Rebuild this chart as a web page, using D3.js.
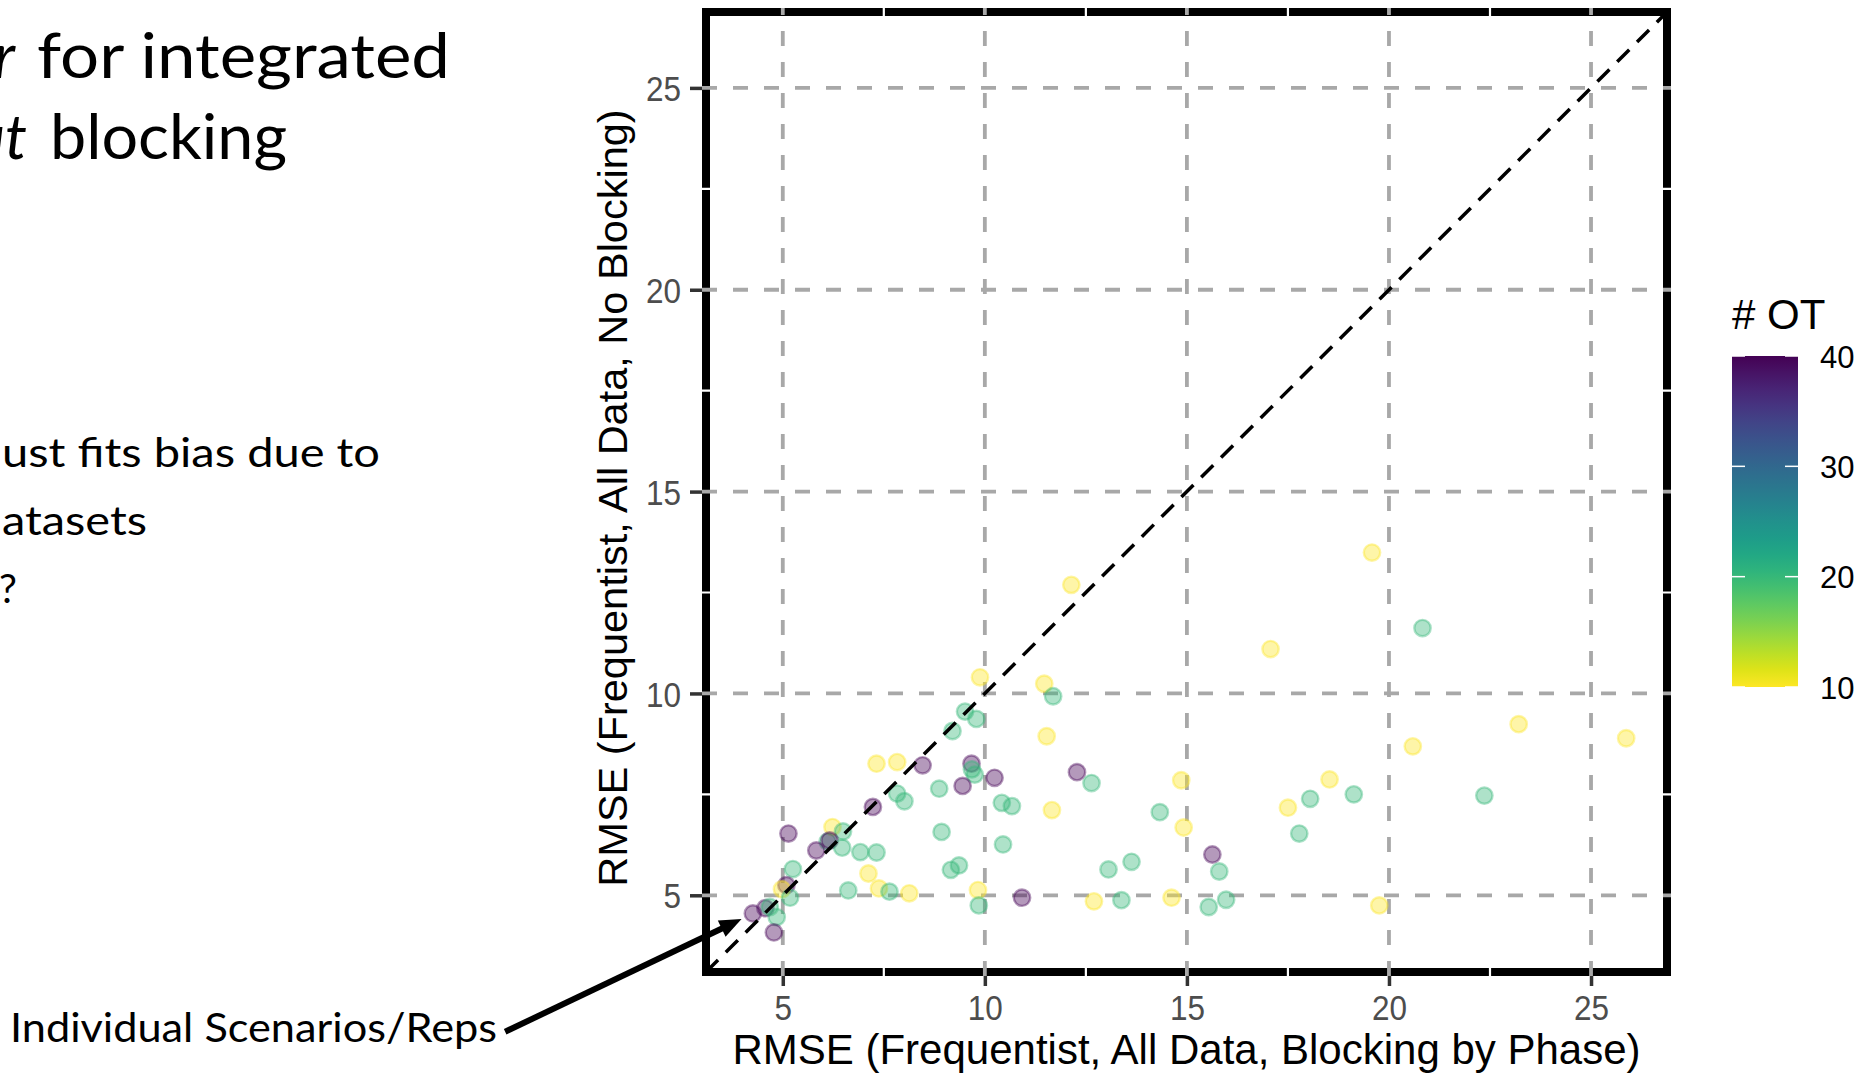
<!DOCTYPE html>
<html><head><meta charset="utf-8">
<script src="https://cdn.jsdelivr.net/npm/d3@7"></script>
<style>html,body{margin:0;padding:0;background:#fff;overflow:hidden} svg{display:block}</style>
</head><body><svg id="chart" width="1860" height="1074"></svg>
<script>
// ---- data ----
const rmseBlocking = [9.88,11.47,11.69,9.51,9.79,9.20,11.53,7.32,7.83,8.46,9.67,9.68,9.75,10.24,12.28,12.64,14.86,18.53,8.87,9.45,7.83,8.01,7.23,10.42,10.67,11.66,14.33,17.50,18.05,19.13,14.92,17.78,6.23,6.49,5.14,8.93,10.45,6.11,6.16,5.83,6.47,6.92,7.32,15.63,13.63,13.06,15.80,9.36,9.16,7.12,5.25,5.09,4.98,5.18,6.62,7.38,7.64,8.13,9.83,9.85,10.92,12.70,13.38,14.62,15.54,15.97,19.76,4.26,4.57,4.68,4.85,4.78,19.58,12.14,20.83,17.07,23.21,25.87,20.59,22.36];
const rmseNoBlocking = [10.40,10.24,9.93,9.55,9.37,9.07,8.94,8.26,8.30,8.22,8.26,8.12,7.99,7.91,8.05,7.78,7.85,7.87,7.64,7.71,7.52,7.33,7.19,7.29,7.21,7.11,7.06,7.17,7.39,7.50,6.68,6.53,6.69,6.58,6.53,6.57,6.26,6.33,6.36,6.11,6.18,6.07,6.06,6.01,5.83,5.64,5.59,5.74,5.63,5.54,5.65,5.25,5.15,4.94,5.12,5.17,5.09,5.05,5.13,4.75,4.94,4.85,4.88,4.94,4.71,4.89,4.75,4.55,4.68,4.71,4.46,4.08,13.49,12.69,11.62,11.10,9.24,8.89,8.69,7.47];
const numOT = [10,10,20,20,20,20,10,10,10,40,40,20,20,40,40,20,10,10,20,40,20,20,40,20,20,10,20,10,20,20,10,20,10,20,40,20,20,20,40,40,20,20,20,40,20,20,20,20,20,10,20,40,10,20,20,10,20,10,10,20,40,10,20,10,20,20,10,40,40,20,20,40,10,10,20,10,10,10,10,20];
const axisTicks = [5, 10, 15, 20, 25];
const minorTicks = [7.5, 12.5, 17.5, 22.5];
const legendTicks = [10, 20, 30, 40];
const axisDomain = [3.1, 26.88];
const otDomain = [40, 10];
const xTitle = "RMSE (Frequentist, All Data, Blocking by Phase)";
const yTitle = "RMSE (Frequentist, All Data, No Blocking)";
const legendTitle = "# OT";
const annotationText = "Individual Scenarios/Reps";
const arrowFrom = [-1.87, 1.62];
const arrowTo = [3.98, 4.41];

// ---- setup ----
const svg = d3.select("#chart");
svg.append("rect").attr("width", 1860).attr("height", 1074).attr("fill", "#fff");
const P = {l: 706, r: 1667, t: 12, b: 972};
const x = d3.scaleLinear().domain(axisDomain).range([P.l, P.r]);
const y = d3.scaleLinear().domain(axisDomain).range([P.b, P.t]);
const color = d3.scaleSequential(d3.interpolateViridis).domain(otDomain);
const font = "'Liberation Sans', Arial, Helvetica, sans-serif";
const slideFont = "Lato, 'Open Sans', sans-serif";
const tickScale = 0.9;

// ---- slide text (partially cropped) ----
const slide = svg.append("g").attr("font-family", slideFont).attr("fill", "#000");
slide.append("text").attr("x", 15).attr("y", 78).attr("text-anchor", "end")
  .attr("font-size", 62).attr("font-style", "italic").text("r");
slide.append("text").attr("x", 37).attr("y", 78).attr("font-size", 62)
  .attr("textLength", 413).attr("lengthAdjust", "spacingAndGlyphs").text("for integrated");
slide.append("text").attr("x", 27).attr("y", 159).attr("text-anchor", "end")
  .attr("font-size", 62).attr("font-style", "italic").text("ut");
slide.append("text").attr("x", 50).attr("y", 159).attr("font-size", 62)
  .attr("textLength", 237).attr("lengthAdjust", "spacingAndGlyphs").text("blocking");
slide.append("text").attr("x", 2).attr("y", 467).attr("font-size", 40)
  .attr("textLength", 378).attr("lengthAdjust", "spacingAndGlyphs").text("ust fits bias due to");
slide.append("text").attr("x", 2).attr("y", 535).attr("font-size", 40)
  .attr("textLength", 145).attr("lengthAdjust", "spacingAndGlyphs").text("atasets");
slide.append("text").attr("x", 17).attr("y", 603).attr("text-anchor", "end").attr("font-size", 40).text("?");
slide.append("text").attr("x", 10).attr("y", 1042).attr("font-size", 40)
  .attr("textLength", 487).attr("lengthAdjust", "spacingAndGlyphs").text(annotationText);

// ---- axes (ticks + labels) ----
const xAxis = svg.append("g").attr("transform", `translate(0,${P.b})`)
  .call(d3.axisBottom(x).tickValues(axisTicks).tickSize(14).tickFormat(d3.format("d")));
xAxis.select(".domain").remove();
xAxis.selectAll(".tick line").attr("stroke", "#333").attr("stroke-width", 3.5);
xAxis.selectAll(".tick text").attr("y", 48).attr("dy", null)
  .attr("font-size", 35).attr("font-family", font).attr("fill", "#4d4d4d")
  .attr("transform", `scale(${tickScale},1)`);

const yAxis = svg.append("g").attr("transform", `translate(${P.l},0)`)
  .call(d3.axisLeft(y).tickValues(axisTicks).tickSize(16).tickFormat(d3.format("d")));
yAxis.select(".domain").remove();
yAxis.selectAll(".tick line").attr("stroke", "#333").attr("stroke-width", 3.5);
yAxis.selectAll(".tick text").attr("x", -25 / tickScale).attr("dy", "0.36em")
  .attr("font-size", 35).attr("font-family", font).attr("fill", "#4d4d4d")
  .attr("transform", `scale(${tickScale},1)`);

// ---- panel border ----
svg.append("rect").attr("x", P.l).attr("y", P.t).attr("width", P.r - P.l).attr("height", P.b - P.t)
  .attr("fill", "none").attr("stroke", "#000").attr("stroke-width", 8);

// ---- grid ----
const bw = 4;
const grid = svg.append("g");
grid.selectAll("line.vmin").data(minorTicks).join("line").attr("class", "vmin")
  .attr("x1", d => x(d)).attr("x2", d => x(d)).attr("y1", P.b + bw).attr("y2", P.t - bw)
  .attr("stroke", "#fff").attr("stroke-width", 2.2);
grid.selectAll("line.hmin").data(minorTicks).join("line").attr("class", "hmin")
  .attr("y1", d => y(d)).attr("y2", d => y(d)).attr("x1", P.l - bw).attr("x2", P.r + bw)
  .attr("stroke", "#fff").attr("stroke-width", 2.2);
grid.selectAll("line.vmaj").data(axisTicks).join("line").attr("class", "vmaj")
  .attr("x1", d => x(d)).attr("x2", d => x(d)).attr("y1", P.b + bw).attr("y2", P.t - bw)
  .attr("stroke", "#a8a8a8").attr("stroke-width", 3.8).attr("stroke-dasharray", "15,16");
grid.selectAll("line.hmaj").data(axisTicks).join("line").attr("class", "hmaj")
  .attr("y1", d => y(d)).attr("y2", d => y(d)).attr("x1", P.l - bw).attr("x2", P.r + bw)
  .attr("stroke", "#a8a8a8").attr("stroke-width", 3.8).attr("stroke-dasharray", "15,16");

// ---- points ----
const pts = rmseBlocking.map((v, i) => ({x: v, y: rmseNoBlocking[i], ot: numOT[i]}));
svg.append("g").selectAll("circle").data(pts).join("circle")
  .attr("cx", d => x(d.x)).attr("cy", d => y(d.y)).attr("r", 8.2)
  .attr("fill", d => color(d.ot)).attr("fill-opacity", 0.4)
  .attr("stroke", d => color(d.ot)).attr("stroke-opacity", 0.4).attr("stroke-width", 2.4);

// ---- identity line ----
svg.append("defs").append("clipPath").attr("id", "pclip").append("rect")
  .attr("x", P.l).attr("y", P.t).attr("width", P.r - P.l).attr("height", P.b - P.t);
svg.append("path").attr("clip-path", "url(#pclip)")
  .attr("d", d3.line().x(d => x(d)).y(d => y(d))([axisDomain[0], axisDomain[1]]))
  .attr("fill", "none").attr("stroke", "#000").attr("stroke-width", 3.5).attr("stroke-dasharray", "17,11");

// ---- axis titles ----
svg.append("text").attr("x", (P.l + P.r) / 2).attr("y", 1064).attr("text-anchor", "middle")
  .attr("font-family", font).attr("font-size", 42).attr("fill", "#000").text(xTitle);
svg.append("text").attr("transform", `translate(627,${(P.t + P.b) / 2 + 6}) rotate(-90)`)
  .attr("text-anchor", "middle").attr("font-family", font).attr("font-size", 41.5).attr("fill", "#000").text(yTitle);

// ---- colour legend ----
const cb = d3.scaleLinear().domain([10, 40]).range([687, 356]);
const grad = svg.select("defs").append("linearGradient").attr("id", "cbGrad")
  .attr("x1", 0).attr("y1", 1).attr("x2", 0).attr("y2", 0);
d3.range(0, 1.0001, 0.05).forEach(t => grad.append("stop").attr("offset", t).attr("stop-color", color(10 + 30 * t)));
const cbX = 1732, cbW = 66;
svg.append("rect").attr("x", cbX).attr("y", cb(40)).attr("width", cbW).attr("height", cb(10) - cb(40))
  .attr("fill", "url(#cbGrad)");
const cbTicks = svg.append("g");
cbTicks.selectAll("line.l").data(legendTicks).join("line").attr("class", "l")
  .attr("x1", cbX).attr("x2", cbX + 13).attr("y1", d => cb(d)).attr("y2", d => cb(d))
  .attr("stroke", "#fff").attr("stroke-width", 1.5);
cbTicks.selectAll("line.r").data(legendTicks).join("line").attr("class", "r")
  .attr("x1", cbX + cbW - 13).attr("x2", cbX + cbW).attr("y1", d => cb(d)).attr("y2", d => cb(d))
  .attr("stroke", "#fff").attr("stroke-width", 1.5);
const lAxis = svg.append("g").attr("transform", `translate(${cbX + cbW},0)`)
  .call(d3.axisRight(cb).tickValues(legendTicks).tickSize(0).tickFormat(d3.format("d")));
lAxis.select(".domain").remove();
lAxis.selectAll(".tick text").attr("x", 22).attr("dy", "0.36em")
  .attr("font-size", 31).attr("font-family", font).attr("fill", "#000");
svg.append("text").attr("x", cbX).attr("y", 329).attr("font-family", font).attr("font-size", 42)
  .attr("fill", "#000").text(legendTitle);

// ---- annotation arrow ----
const a0 = [x(arrowFrom[0]), y(arrowFrom[1])], a1 = [x(arrowTo[0]), y(arrowTo[1])];
const dx = a1[0] - a0[0], dy = a1[1] - a0[1], len = Math.hypot(dx, dy);
const ux = dx / len, uy = dy / len, hl = 22, hw = 9;
const base = [a1[0] - ux * hl, a1[1] - uy * hl];
svg.append("line").attr("x1", a0[0]).attr("y1", a0[1]).attr("x2", base[0] + ux * 2).attr("y2", base[1] + uy * 2)
  .attr("stroke", "#000").attr("stroke-width", 6);
svg.append("path").attr("d", d3.line()([a1, [base[0] - uy * hw, base[1] + ux * hw], [base[0] + uy * hw, base[1] - ux * hw]]) + "Z")
  .attr("fill", "#000");
</script>
</body></html>
